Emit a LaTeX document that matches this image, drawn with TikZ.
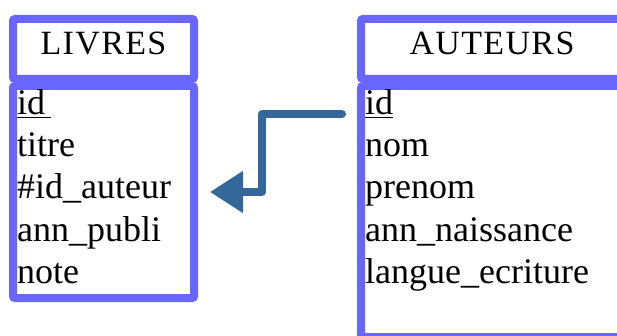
\documentclass[tikz,border=0pt]{standalone}
\usepackage{fontspec}
\setmainfont{Liberation Serif}
\usetikzlibrary{arrows.meta}
\definecolor{tblue}{RGB}{104,102,255}
\definecolor{arrowblue}{RGB}{52,104,154}
\tikzset{
  tbox/.style={draw=tblue, line width=8pt, rounded corners=2pt, rectangle, inner sep=0pt, outer sep=0pt, fill=white},
  ttitle/.style={anchor=base, inner sep=0pt, font=\fontsize{34}{40}\selectfont\addfontfeature{LetterSpace=4}},
  tfield/.style={anchor=base west, inner sep=0pt, font=\fontsize{36}{42}\selectfont},
  fkarrow/.style={draw=arrowblue, line width=8pt, line cap=round, line join=round, -{Triangle[length=33pt,width=40pt]}}
}
\begin{document}
\begin{tikzpicture}[x=1pt,y=-1pt]
\useasboundingbox (0,0) rectangle (617,336);
\clip (0,0) rectangle (617,336);
% LIVRES table
\node[tbox, minimum width=181pt, minimum height=60pt] (livresH) at (103.5,49) {};
\node[tbox, minimum width=181pt, minimum height=212pt] (livresB) at (103.5,192) {};
\node[ttitle] (livresT) at (103.5,55) {LIVRES};
\node[tfield] (l1) at (17,115) {\underline{id\,}};
\node[tfield] (l2) at (17,157) {titre};
\node[tfield] (l3) at (17,199) {\#id\_auteur};
\node[tfield] (l4) at (17,241) {ann\_publi};
\node[tfield] (l5) at (17,283) {note};
% AUTEURS table
\node[tbox, minimum width=262pt, minimum height=60pt] (autH) at (492,49) {};
\node[tbox, minimum width=262pt, minimum height=251pt] (autB) at (492,211.5) {};
\node[ttitle] (autT) at (492,55) {AUTEURS};
\node[tfield] (a1) at (365,115) {\underline{id}};
\node[tfield] (a2) at (365,157) {nom};
\node[tfield] (a3) at (365,199) {prenom};
\node[tfield] (a4) at (365,241) {ann\_naissance};
\node[tfield] (a5) at (365,283) {langue\_ecriture};
% foreign key arrow
\coordinate (fkstart) at (342,114);
\coordinate (fkbend) at (262,150);
\coordinate (fkend) at (210,192);
\draw[fkarrow] (fkstart) -| (fkbend) |- (fkend);
\end{tikzpicture}
\end{document}
